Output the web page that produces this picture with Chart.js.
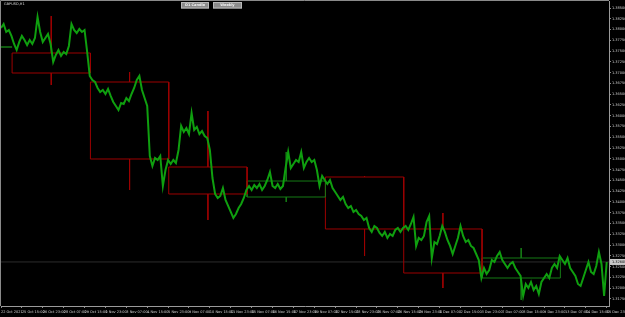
<!DOCTYPE html>
<html>
<head>
<meta charset="utf-8">
<script src="https://cdn.jsdelivr.net/npm/chart.js@4.4.0/dist/chart.umd.min.js"></script>
<style>
html,body{margin:0;padding:0;background:#000;overflow:hidden;}
canvas{display:block;}
</style>
</head>
<body>
<canvas id="c" width="625" height="317"></canvas>
<script>
// ---- DATA ----
const symbolTitle = "GBPUSD,H1";
const buttonLabels = ["D1 Candle", "Weekly"];
// H1 bars counted from 22 Oct 2021 07:00; one time label every 32 bars
const barStep = 4; // one close sampled every 4 H1 bars
const closes = [
1.38036,1.38129,1.37944,1.37990,1.37851,1.37665,1.37526,1.37712,1.37851,1.37758,
1.37642,1.37758,1.37665,1.37804,1.38292,1.37944,1.37712,1.37804,1.37897,1.37665,
1.37248,1.37410,1.37526,1.37387,1.37480,1.37433,1.37619,1.38129,1.37990,1.37920,
1.38013,1.37944,1.37990,1.37480,1.36923,1.36830,1.36784,1.36644,1.36552,1.36598,
1.36505,1.36621,1.36459,1.36320,1.36227,1.36134,1.36296,1.36273,1.36412,1.36343,
1.36505,1.36644,1.36830,1.36923,1.36598,1.36412,1.36227,1.35067,1.34835,1.35020,
1.34974,1.35067,1.34371,1.34742,1.34974,1.34881,1.34974,1.34904,1.35206,1.35763,
1.35624,1.35716,1.35577,1.36064,1.35670,1.35740,1.35577,1.35647,1.35531,1.35484,
1.35206,1.34556,1.34185,1.34092,1.34139,1.34324,1.34046,1.33907,1.33768,1.33628,
1.33721,1.33860,1.33953,1.34092,1.34278,1.34371,1.34278,1.34394,1.34324,1.34417,
1.34278,1.34371,1.34510,1.34696,1.34371,1.34324,1.34417,1.34301,1.34371,1.34788,
1.35160,1.34788,1.34881,1.34974,1.34928,1.35160,1.34788,1.34928,1.35020,1.34928,
1.34974,1.34742,1.34371,1.34603,1.34510,1.34417,1.34510,1.34324,1.34232,1.34139,
1.34046,1.34116,1.33953,1.33860,1.33907,1.33768,1.33814,1.33721,1.33675,1.33582,
1.33628,1.33396,1.33304,1.33443,1.33396,1.33280,1.33211,1.33304,1.33164,1.33257,
1.33211,1.33350,1.33396,1.33304,1.33396,1.33443,1.33350,1.33489,1.33652,1.32979,
1.33164,1.33118,1.33211,1.33536,1.33675,1.32700,1.33072,1.33025,1.33211,1.33443,
1.33304,1.33118,1.32979,1.32793,1.32979,1.33164,1.33443,1.33211,1.33072,1.33118,
1.32979,1.32932,1.32793,1.32654,1.32236,1.32468,1.32329,1.32422,1.32654,1.32608,
1.32747,1.32840,1.32654,1.32561,1.32468,1.32561,1.32608,1.32468,1.32376,1.32283,
1.31819,1.32097,1.32004,1.32144,1.31958,1.32051,1.31865,1.32144,1.32236,1.32329,
1.32236,1.32468,1.32561,1.32468,1.32747,1.32654,1.32561,1.32700,1.32468,1.32376,
1.32283,1.32097,1.32051,1.32236,1.32422,1.32608,1.32376,1.32329,1.32515,1.32840,
1.32561,1.31819,1.32608
];
// Weekly candles (bar index of week start / end)
const weekStart = [-103, 17, 137, 257, 377, 497, 617, 737];
const weekEnd   = [17, 137, 257, 377, 497, 617, 737, 857];
const weekOpen  = [1.37595, 1.37456, 1.36783, 1.34811, 1.34115, 1.34579, 1.33373, 1.32236];
const weekHigh  = [null,    1.38314, 1.37015, 1.36110, 1.35160, 1.34600, 1.33744, 1.32932];
const weekLow   = [null,    1.36714, 1.34278, 1.33582, 1.33999, 1.32746, 1.32004, 1.31726];
const weekClose = [1.37595, 1.36992, 1.34997, 1.34185, 1.34486, 1.33373, 1.32352, 1.32700];
const timeLabels = ["22 Oct 2021","25 Oct 15:00","26 Oct 23:00","28 Oct 07:00","29 Oct 15:00",
"1 Nov 23:00","3 Nov 07:00","4 Nov 15:00","5 Nov 23:00","9 Nov 07:00","10 Nov 15:00",
"11 Nov 23:00","15 Nov 07:00","16 Nov 15:00","17 Nov 23:00","19 Nov 07:00","22 Nov 15:00",
"23 Nov 23:00","25 Nov 07:00","26 Nov 15:00","29 Nov 23:00","1 Dec 07:00","2 Dec 15:00",
"3 Dec 23:00","7 Dec 07:00","8 Dec 15:00","9 Dec 23:00","13 Dec 07:00","14 Dec 15:00","15 Dec 23:00"];
const labelStep = 32;
const priceTicks = [1.38500,1.38250,1.38000,1.37750,1.37500,1.37250,1.37000,1.36750,1.36500,1.36250,
1.36000,1.35750,1.35500,1.35250,1.35000,1.34750,1.34500,1.34250,1.34000,1.33750,
1.33500,1.33250,1.33000,1.32750,1.32500,1.32250,1.32000,1.31750];

// ---- BUILD ----
const RED = '#9c0000', DGREEN = '#157a15', LINE = '#0f9f0f';
const xMin = 0, xMax = 931.5;
const yMax = 1.386624, yMin = 1.315864;

const datasets = [];
datasets.push({
  label: 'close', data: closes.map((v, i) => ({x: i * barStep, y: v})),
  borderColor: LINE, borderWidth: 2, pointRadius: 0, tension: 0, order: 0
});
const lastClose = closes[closes.length - 1];
datasets.push({
  label: 'bid', data: [{x: xMin, y: lastClose}, {x: xMax, y: lastClose}],
  borderColor: '#2c2c2c', borderWidth: 1, pointRadius: 0, order: 5
});
for (let k = 0; k < weekStart.length; k++) {
  const s = weekStart[k], e = weekEnd[k], o = weekOpen[k], c = weekClose[k];
  const col = c >= o ? DGREEN : RED;
  datasets.push({
    label: 'w' + k,
    data: [{x: s, y: o}, {x: e, y: o}, {x: e, y: c}, {x: s, y: c}, {x: s, y: o}],
    borderColor: col, borderWidth: 1, pointRadius: 0, tension: 0, order: 2
  });
  if (weekHigh[k] !== null) {
    const m = (s + e) / 2;
    datasets.push({
      label: 'wk' + k,
      data: [{x: m, y: weekHigh[k]}, {x: m, y: Math.max(o, c)}, {x: m, y: null},
             {x: m, y: Math.min(o, c)}, {x: m, y: weekLow[k]}],
      borderColor: col, borderWidth: 1, pointRadius: 0, spanGaps: false, order: 2
    });
  }
}

const FONT = {family: 'DejaVu Sans', size: 3.5};

const overlay = {
  id: 'overlay',
  beforeDraw(chart) {
    const ctx = chart.ctx;
    ctx.save();
    ctx.fillStyle = '#000';
    ctx.fillRect(0, 0, chart.width, chart.height);
    ctx.restore();
  },
  afterDraw(chart) {
    const ctx = chart.ctx, a = chart.chartArea;
    ctx.save();
    // frame top & left
    ctx.strokeStyle = '#8a8a8a';
    ctx.lineWidth = 1;
    ctx.beginPath();
    ctx.moveTo(a.left - 0.5, a.bottom); ctx.lineTo(a.left - 0.5, a.top - 0.5); ctx.lineTo(a.right, a.top - 0.5);
    ctx.stroke();
    // title
    ctx.fillStyle = '#d8d8d8';
    ctx.font = '3.5px "DejaVu Sans"';
    ctx.textBaseline = 'middle';
    ctx.textAlign = 'left';
    ctx.fillText(symbolTitle, 4, 4);
    // buttons
    const btns = [[181, 28], [213, 29]];
    btns.forEach((b, i) => {
      ctx.fillStyle = '#8c8c8c';
      ctx.fillRect(b[0], 2, b[1], 6.5);
      ctx.strokeStyle = '#b8b8b8';
      ctx.strokeRect(b[0] + 0.5, 2.5, b[1] - 1, 5.5);
      ctx.fillStyle = '#f0f0f0';
      ctx.textAlign = 'center';
      ctx.font = 'bold 3.5px "DejaVu Sans"';
      ctx.fillText(buttonLabels[i], b[0] + b[1] / 2, 5.3);
    });
    // current price label on the axis
    const yS = chart.scales.y;
    const py = yS.getPixelForValue(lastClose);
    ctx.fillStyle = '#c8c8c8';
    ctx.fillRect(a.right + 1, py - 3, chart.width - a.right - 1, 6);
    ctx.fillStyle = '#000';
    ctx.textAlign = 'left';
    ctx.font = '3.5px "DejaVu Sans"';
    ctx.fillText(lastClose.toFixed(5), a.right + 3, py + 0.3);
    ctx.restore();
  }
};

new Chart(document.getElementById('c'), {
  type: 'line',
  data: {datasets},
  plugins: [overlay],
  options: {
    responsive: false, animation: false, devicePixelRatio: 1,
    layout: {padding: {left: 1, top: 1, right: 0, bottom: 0}},
    plugins: {legend: {display: false}, tooltip: {enabled: false}},
    elements: {line: {borderCapStyle: 'butt', borderJoinStyle: 'miter'}},
    scales: {
      x: {
        type: 'linear', min: xMin, max: xMax,
        afterFit(s) { s.height = 11; s.paddingLeft = 0; s.paddingRight = 0; },
        afterBuildTicks(s) { s.ticks = timeLabels.map((_, i) => ({value: i * labelStep})); },
        grid: {drawOnChartArea: false, drawTicks: true, tickLength: 2, color: '#8a8a8a'},
        border: {display: true, color: '#9a9a9a', width: 1},
        ticks: {
          autoSkip: false, maxRotation: 0, minRotation: 0, align: 'start', padding: 2,
          color: '#d0d0d0', font: FONT,
          callback: (v) => timeLabels[Math.round(v / labelStep)]
        }
      },
      y: {
        type: 'linear', position: 'right', min: yMin, max: yMax,
        afterFit(s) { s.width = 16; s.paddingTop = 0; s.paddingBottom = 0; },
        afterBuildTicks(s) { s.ticks = priceTicks.map(v => ({value: v})); },
        grid: {drawOnChartArea: false, drawTicks: true, tickLength: 2, color: '#8a8a8a'},
        border: {display: true, color: '#9a9a9a', width: 1},
        ticks: {
          autoSkip: false, padding: 1, color: '#d0d0d0', font: FONT,
          callback: (v) => Number(v).toFixed(5)
        }
      }
    }
  }
});
</script>
</body>
</html>
